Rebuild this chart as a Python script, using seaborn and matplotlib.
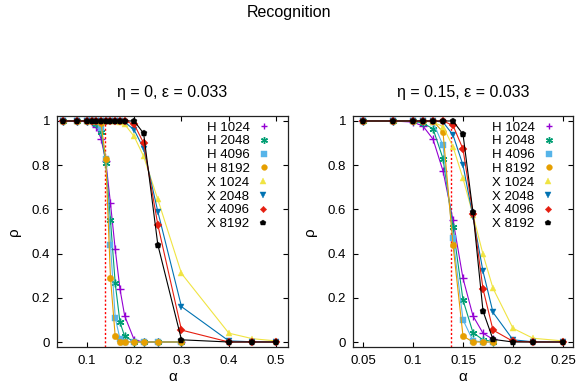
import numpy as np
import pandas as pd
import matplotlib
matplotlib.use("Agg")
import matplotlib.pyplot as plt
from matplotlib.lines import Line2D
import seaborn as sns

sns.set_theme(style="ticks")
plt.rcParams['font.family'] = ['Liberation Sans', 'DejaVu Sans']
plt.rcParams['text.color'] = 'black'
plt.rcParams['axes.labelcolor'] = 'black'

# ---------------- data ----------------
labels = ["H 1024", "H 2048", "H 4096", "H 8192", "X 1024", "X 2048", "X 4096", "X 8192"]
alpha_c = 0.138

# left panel (eta = 0)
left_alpha_H = [0.05, 0.08, 0.1, 0.11, 0.12, 0.13, 0.14, 0.15, 0.16, 0.17, 0.18, 0.2, 0.22, 0.25, 0.3]
left_H1024 = [1, 1, 1, 0.995, 0.975, 0.92, 0.82, 0.627, 0.42, 0.24, 0.118, 0.01, 0, 0, 0]
left_H2048 = [1, 1, 1, 1, 0.985, 0.95, 0.81, 0.55, 0.265, 0.09, 0.025, 0.002, 0, 0, 0]
left_H4096 = [1, 1, 1, 1, 0.995, 0.97, 0.83, 0.44, 0.11, 0.015, 0.002, 0, 0, 0, 0]
left_H8192 = [1, 1, 1, 1, 1, 0.99, 0.826, 0.29, 0.025, 0.002, 0, 0, 0, 0, 0]

left_alpha_X = [0.05, 0.08, 0.1, 0.11, 0.12, 0.13, 0.14, 0.15, 0.16, 0.17, 0.18, 0.2, 0.22, 0.25, 0.3, 0.4, 0.45, 0.5]
left_X1024 = [1, 1, 1, 1, 1, 1, 1, 1, 1, 0.995, 0.985, 0.93, 0.84, 0.645, 0.31, 0.04, 0.015, 0.005]
left_X2048 = [1, 1, 1, 1, 1, 1, 1, 1, 1, 1, 0.995, 0.96, 0.875, 0.59, 0.16, 0.005, 0.001, 0]
left_X4096 = [1, 1, 1, 1, 1, 1, 1, 1, 1, 1, 1, 0.985, 0.90, 0.53, 0.054, 0, 0, 0]
left_X8192 = [1, 1, 1, 1, 1, 1, 1, 1, 1, 1, 1, 1.0, 0.944, 0.44, 0.01, 0, 0, 0]

# right panel (eta = 0.15)
right_alpha_H = [0.05, 0.08, 0.1, 0.11, 0.12, 0.13, 0.14, 0.15, 0.16, 0.17, 0.18]
right_H1024 = [1, 1, 0.995, 0.977, 0.918, 0.774, 0.552, 0.288, 0.118, 0.04, 0.012]
right_H2048 = [1, 1, 1, 0.99, 0.965, 0.83, 0.52, 0.19, 0.042, 0.01, 0.002]
right_H4096 = [1, 1, 1, 1, 0.995, 0.89, 0.47, 0.10, 0.006, 0, 0]
right_H8192 = [1, 1, 1, 1, 1, 0.95, 0.44, 0.027, 0, 0, 0]

right_alpha_X = [0.05, 0.08, 0.1, 0.11, 0.12, 0.13, 0.14, 0.15, 0.16, 0.17, 0.18, 0.2, 0.22, 0.25]
right_X1024 = [1, 1, 1, 1, 0.995, 0.975, 0.884, 0.74, 0.575, 0.397, 0.243, 0.062, 0.017, 0.005]
right_X2048 = [1, 1, 1, 1, 1, 0.995, 0.937, 0.80, 0.567, 0.32, 0.134, 0.01, 0.001, 0]
right_X4096 = [1, 1, 1, 1, 1, 1, 0.98, 0.873, 0.58, 0.24, 0.054, 0.003, 0, 0]
right_X8192 = [1, 1, 1, 1, 1, 1, 1, 0.94, 0.587, 0.14, 0.012, 0, 0, 0]

colors = ["#9400D3", "#009E73", "#56B4E9", "#E69F00", "#F0E442", "#0072B2", "#E51E10", "#000000"]
markers = ["+", (6, 2, 0), "s", "o", "^", "v", "D", "p"]
msizes = [5.5, 5.5, 4.3, 4.6, 4.6, 4.6, 3.6, 4.8]

panels = [
    dict(title="η = 0, ε = 0.033", xlim=(0.037, 0.525), xticks=[0.1, 0.2, 0.3, 0.4, 0.5],
         xticklabels=["0.1", "0.2", "0.3", "0.4", "0.5"],
         series=[(left_alpha_H, left_H1024), (left_alpha_H, left_H2048), (left_alpha_H, left_H4096),
                 (left_alpha_H, left_H8192), (left_alpha_X, left_X1024), (left_alpha_X, left_X2048),
                 (left_alpha_X, left_X4096), (left_alpha_X, left_X8192)]),
    dict(title="η = 0.15, ε = 0.033", xlim=(0.04, 0.26), xticks=[0.05, 0.1, 0.15, 0.2, 0.25],
         xticklabels=["0.05", "0.1", "0.15", "0.2", "0.25"],
         series=[(right_alpha_H, right_H1024), (right_alpha_H, right_H2048), (right_alpha_H, right_H4096),
                 (right_alpha_H, right_H8192), (right_alpha_X, right_X1024), (right_alpha_X, right_X2048),
                 (right_alpha_X, right_X4096), (right_alpha_X, right_X8192)]),
]

W, H = 579, 388
fig = plt.figure(figsize=(W / 100, H / 100), dpi=100)
fig.patch.set_facecolor("white")
axes_px = [(57, 116, 231, 231), (353, 116, 220, 231)]
fs = 9.5

for p, (x0, y0, w, h) in zip(panels, axes_px):
    ax = fig.add_axes([x0 / W, 1 - (y0 + h) / H, w / W, h / H])
    ax.set_facecolor("white")
    ax.plot([alpha_c, alpha_c], [-0.0226, 1.0], color="#FF0000", linestyle=(0, (1.5, 1.5)),
            linewidth=1.0, zorder=1.5)
    for (a, r), lab, c, m, ms in zip(p["series"], labels, colors, markers, msizes):
        df = pd.DataFrame({"alpha": a, "rho": r})
        sns.lineplot(data=df, x="alpha", y="rho", ax=ax, color=c, marker=m, markersize=ms,
                     markeredgecolor=c, markeredgewidth=1.0 if m in ["+", (6, 2, 0)] else 0.3,
                     linewidth=0.8, legend=False, zorder=2)
    ax.set_xlim(*p["xlim"])
    ax.set_ylim(-0.0226, 1.0226)
    ax.set_xticks(p["xticks"])
    ax.set_xticklabels(p["xticklabels"])
    ax.set_yticks([0, 0.2, 0.4, 0.6, 0.8, 1])
    ax.set_yticklabels(["0", "0.2", "0.4", "0.6", "0.8", "1"])
    ax.tick_params(direction="in", length=3.5, width=0.8, top=True, right=True,
                   labelsize=fs, colors="black", pad=5)
    ax.tick_params(axis="x", pad=6)
    for s in ax.spines.values():
        s.set_color("#222222")
        s.set_linewidth(0.9)
    ax.set_xlabel("α", fontsize=fs + 1.5, labelpad=2)
    ax.set_ylabel("ρ", fontsize=fs + 1.5, labelpad=8)
    ax.set_title(p["title"], fontsize=fs + 2, pad=14)
    handles = [Line2D([], [], color=c, marker=m, linestyle="none", markersize=ms * 0.9,
                      markeredgewidth=1.0 if m in ["+", (6, 2, 0)] else 0.3)
               for c, m, ms in zip(colors, markers, msizes)]
    leg = ax.legend(handles, labels, loc="upper right", bbox_to_anchor=(1 - 12.0 / w, 1.0),
                    markerfirst=False, frameon=False,
                    fontsize=fs, handlelength=1.0, handletextpad=0.6, labelspacing=0.12,
                    borderaxespad=0.2, borderpad=0.2)
    for col in leg._legend_handle_box.get_children():
        col.align = "left"

fig.text(0.5, 1 - 12 / H, "Recognition", ha="center", va="center", fontsize=fs + 2)
fig.savefig("out.png", dpi=100, facecolor="white")
